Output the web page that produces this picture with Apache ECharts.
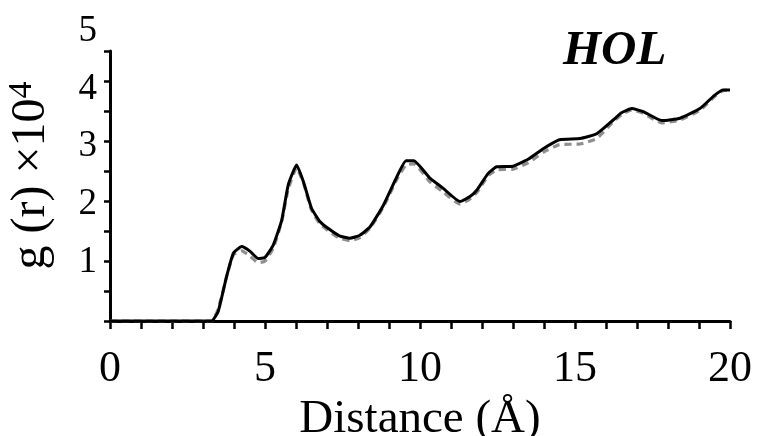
<!DOCTYPE html>
<html>
<head>
<meta charset="utf-8">
<script src="https://cdn.jsdelivr.net/npm/echarts@6/dist/echarts.min.js"></script>
<style>html,body{margin:0;padding:0;background:#fff;}#c{width:760px;height:436px;}</style>
</head>
<body>
<div id="c"></div>
<script>
// Distance (Å) sample points
var distance = [0, 1, 2, 3, 3.28, 3.49, 3.76, 3.98, 4.25, 4.52, 4.78, 5.0, 5.27, 5.54, 5.75, 6.02, 6.24, 6.5, 6.77, 7.1, 7.4, 7.74, 8.06, 8.39, 8.82, 9.25, 9.55, 9.8, 10.32, 10.75, 11.29, 11.6, 11.83, 12.2, 12.47, 13.0, 13.5, 14.0, 14.5, 15.16, 15.7, 16.23, 16.5, 16.83, 17.2, 17.8, 18.39, 19.03, 19.5, 19.78, 20.0];
// g(r) x10^4, solid black curve
var gSolid = [0, 0, 0, 0, 0, 0.16, 0.74, 1.13, 1.24, 1.16, 1.04, 1.06, 1.27, 1.68, 2.27, 2.60, 2.32, 1.88, 1.66, 1.52, 1.42, 1.38, 1.43, 1.57, 1.93, 2.40, 2.67, 2.67, 2.38, 2.21, 1.99, 2.07, 2.18, 2.46, 2.57, 2.58, 2.70, 2.88, 3.02, 3.04, 3.12, 3.35, 3.47, 3.54, 3.49, 3.34, 3.38, 3.54, 3.76, 3.85, 3.85];
// g(r) x10^4, dashed grey curve
var gDashed = [0, 0, 0, 0, 0, 0.20, 0.74, 1.10, 1.17, 1.08, 0.97, 1.00, 1.22, 1.66, 2.20, 2.55, 2.30, 1.85, 1.62, 1.48, 1.38, 1.34, 1.39, 1.55, 1.90, 2.36, 2.60, 2.62, 2.32, 2.15, 1.95, 2.03, 2.14, 2.42, 2.52, 2.53, 2.64, 2.82, 2.94, 2.95, 3.04, 3.32, 3.44, 3.52, 3.46, 3.30, 3.35, 3.51, 3.74, 3.84, 3.85];
var yTickLabels = ['1', '2', '3', '4', '5'];
var xTickLabels = ['0', '5', '10', '15', '20'];
var titleText = 'HOL';

function pairs(xs, ys) { return xs.map(function (x, i) { return [x, ys[i]]; }); }

var FONT = 'Liberation Serif';
var chart = echarts.init(document.getElementById('c'), null, { renderer: 'canvas' });
chart.setOption({
  animation: false,
  backgroundColor: '#fff',
  title: {
    text: titleText, left: 558, top: 22,
    textStyle: { fontFamily: FONT, fontSize: 49, fontWeight: 'bold', fontStyle: 'italic', color: '#000' }
  },
  grid: [
    { left: 110, right: 30, top: 31, bottom: 116, outerBoundsMode: 'none', containLabel: false },
    { left: 110, right: 30, top: 51, bottom: 115, outerBoundsMode: 'none', containLabel: false }
  ],
  xAxis: [
    {
      gridIndex: 0, type: 'value', min: 0, max: 20, interval: 5, show: false
    },
    {
      gridIndex: 1, type: 'value', min: 0, max: 20, interval: 1,
      axisLine: { show: true, lineStyle: { color: '#000', width: 3 } },
      axisTick: { show: true, length: 8, lineStyle: { color: '#000', width: 2.5 } },
      splitLine: { show: false },
      axisLabel: {
        margin: 26, fontFamily: FONT, fontSize: 44, color: '#000', showMinLabel: true, showMaxLabel: true,
        formatter: function (v) { var i = xTickLabels.indexOf(String(v)); return i >= 0 ? xTickLabels[i] : ''; }
      },
      name: 'Distance (Å)', nameLocation: 'middle', nameGap: 66,
      nameTextStyle: { fontFamily: FONT, fontSize: 47, color: '#000' }
    }
  ],
  yAxis: [
    {
      gridIndex: 0, type: 'value', min: 0, max: 5, interval: 1,
      axisLine: { show: false }, axisTick: { show: false }, splitLine: { show: false },
      axisLabel: {
        margin: 13, fontFamily: FONT, fontSize: 37, color: '#000',
        formatter: function (v) { var i = yTickLabels.indexOf(String(v)); return i >= 0 ? yTickLabels[i] : ''; }
      },
      name: '{a|g (r) ×10}{s|4}', nameLocation: 'middle', nameGap: 53, nameRotate: 90,
      nameTextStyle: {
        fontFamily: FONT, fontSize: 48, color: '#000',
        rich: {
          a: { fontFamily: FONT, fontSize: 48, color: '#000', lineHeight: 52 },
          s: { fontFamily: FONT, fontSize: 34, color: '#000', lineHeight: 52, verticalAlign: 'top', padding: [0, 0, 8, 0] }
        }
      }
    },
    {
      gridIndex: 1, type: 'value', min: 0, max: 4.5, interval: 0.5,
      axisLine: { show: true, lineStyle: { color: '#000', width: 3 } },
      axisTick: { show: true, length: 6, lineStyle: { color: '#000', width: 2.5 } },
      axisLabel: { show: false }, splitLine: { show: false }
    }
  ],
  series: [
    {
      type: 'line', xAxisIndex: 1, yAxisIndex: 1, data: pairs(distance, gDashed),
      showSymbol: false, smooth: 0.15, z: 2,
      lineStyle: { color: '#8f8f8f', width: 3.2, type: [7, 5] }
    },
    {
      type: 'line', xAxisIndex: 1, yAxisIndex: 1, data: pairs(distance, gSolid),
      showSymbol: false, smooth: 0.15, z: 3,
      lineStyle: { color: '#000', width: 3 }
    }
  ]
});
</script>
</body>
</html>
